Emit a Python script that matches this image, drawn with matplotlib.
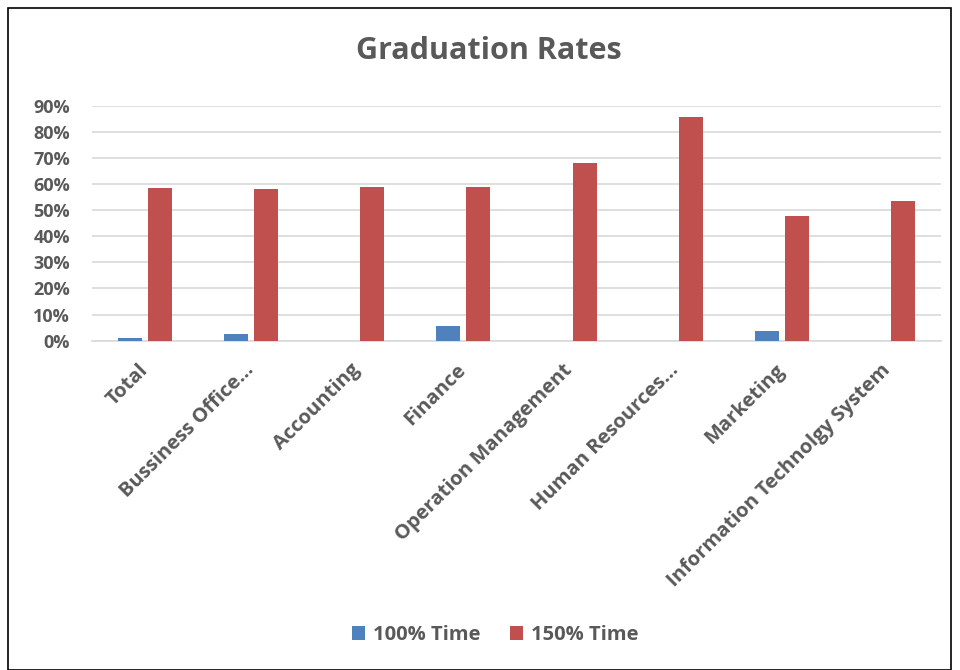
import matplotlib
matplotlib.use("Agg")
import matplotlib.pyplot as plt
import numpy as np
from matplotlib.patches import Rectangle
from matplotlib.ticker import PercentFormatter

categories = ["Total", "Bussiness Office...", "Accounting", "Finance",
              "Operation Management", "Human Resources...", "Marketing",
              "Information Technolgy System"]
time_100 = [1.2, 2.5, 0.0, 5.6, 0.0, 0.0, 3.7, 0.0]
time_150 = [58.4, 58.1, 58.8, 58.8, 68.1, 85.6, 47.8, 53.4]
series_names = ["100% Time", "150% Time"]
colors = ["#4F81BD", "#C0504D"]

plt.rcParams['font.family'] = ['Open Sans', 'DejaVu Sans']
gray = "#595959"

fig = plt.figure(figsize=(9.6, 6.7), dpi=100)
fig.patches.append(Rectangle((8/960, 0), 943/960, 1 - 8/670, transform=fig.transFigure,
                             fill=False, edgecolor="black", linewidth=1.2))

ax = fig.add_axes([92/960, 1 - 340.7/670, 849/960, 235/670])
x = np.arange(len(categories))
w = 0.226
off = 0.1415
ax.bar(x - off, time_100, width=w, color=colors[0], label=series_names[0], zorder=3)
ax.bar(x + off, time_150, width=w, color=colors[1], label=series_names[1], zorder=3)

ax.set_xlim(-0.5, len(categories) - 0.5)
ax.set_ylim(0, 90)
ax.set_yticks(np.arange(0, 91, 10))
ax.yaxis.set_major_formatter(PercentFormatter(decimals=0))
ax.grid(axis='y', color="#D9D9D9", linewidth=1.2, zorder=0)
ax.set_axisbelow(True)
for s in ["top", "right", "left"]:
    ax.spines[s].set_visible(False)
ax.spines["bottom"].set_color("#D9D9D9")
ax.spines["bottom"].set_linewidth(1.2)
ax.tick_params(axis='both', length=0)
ax.tick_params(axis='y', pad=16)
ax.tick_params(axis='x', pad=19)
ax.set_xticks(x)
ax.set_xticklabels(categories, rotation=45, ha='right', va='center', rotation_mode='anchor',
                   fontsize=14.5, fontweight='bold', color=gray)
for lbl in ax.get_yticklabels():
    lbl.set_fontsize(13)
    lbl.set_fontweight('bold')
    lbl.set_color(gray)

fig.text(489/960, 1 - 51/670, "Graduation Rates", ha='center', va='center',
         fontsize=22, fontweight='bold', color=gray)

leg = fig.legend(loc='center', bbox_to_anchor=(495/960, 1 - 635/670), ncol=2, frameon=False,
                 handlelength=0.65, handleheight=0.65, columnspacing=1.45, handletextpad=0.4,
                 prop={'size': 14.5, 'weight': 'bold'})
for t in leg.get_texts():
    t.set_color(gray)

fig.savefig("out.png", dpi=100)
